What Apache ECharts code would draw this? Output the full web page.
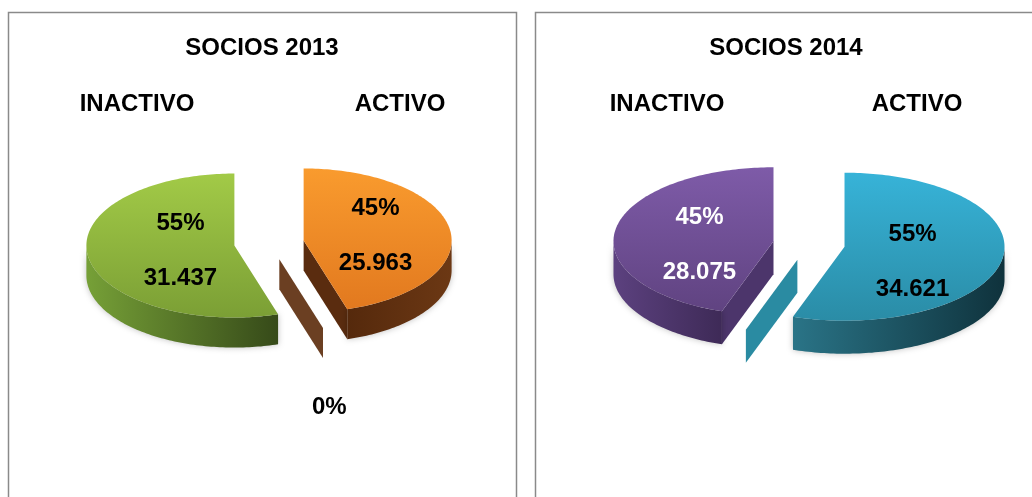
<!DOCTYPE html>
<html>
<head>
<meta charset="utf-8">
<script src="https://cdn.jsdelivr.net/npm/echarts@6/dist/echarts.min.js"></script>
<style>
  html, body { margin: 0; padding: 0; background: #fff; }
  #chart { width: 1032px; height: 497px; }
</style>
</head>
<body>
<div id="chart"></div>
<script>
// datos de socios por año (orden de las porciones, sentido horario desde arriba)
var categorias = ['ACTIVO', 'OTRO', 'INACTIVO'];
var socios2013 = [25963, 0, 31437];
var socios2014 = [34621, 0, 28075];
var titulos = ['SOCIOS 2013', 'SOCIOS 2014'];

var FONT = '"Liberation Sans", Arial, sans-serif';

// colores de cada porcion: cara superior, lateral, corte
var estilos2013 = [
    {top: ['#f99b2e', '#e2791f'], side: ['#55290c', '#6c3814'], wall: '#5a2c0f', label: '#000'},
    {top: ['#8a5530', '#6b3f20'], side: ['#6e4424', '#5c381c'], wall: '#6b3f22', label: '#000'},
    {top: ['#a2ca47', '#7b9f35'], side: ['#76a037', '#364a19'], wall: '#5a7a28', label: '#000'}
];
var estilos2014 = [
    {top: ['#37b3d8', '#2a8ca6'], side: ['#2a7487', '#0f323c'], wall: '#1f6678', label: '#000'},
    {top: ['#2c93ab', '#23778c'], side: ['#2b8aa1', '#1f6b7e'], wall: '#2a8ba2', label: '#000'},
    {top: ['#7e5ba8', '#604381'], side: ['#5c417f', '#3e2a57'], wall: '#4c356b', label: '#fff'}
];

var layout2013 = {cx: 269, cy: 243, rx: 148, ry: 72, h: 30, explode: 35, k: 0.43, dx: 9, dy: 0, zeroLabel: [50, 148]};
var layout2014 = {cx: 809, cy: 244, rx: 160, ry: 74, h: 33, explode: 36, k: 0.45, dx: -3, dy: 9, zeroLabel: null};

function miles(v) {
    return String(v).replace(/\B(?=(\d{3})+(?!\d))/g, '.');
}

function grad(c, horizontal) {
    return {
        type: 'linear', x: 0, y: 0, x2: horizontal ? 1 : 0, y2: horizontal ? 0 : 1,
        colorStops: [{offset: 0, color: c[0]}, {offset: 1, color: c[1]}]
    };
}

// tarta 3D con serie custom
function pie3d(values, L, st) {
    var total = values.reduce(function (a, b) { return a + b; }, 0);
    var starts = [];
    var acc = 0;
    values.forEach(function (v) { starts.push(acc / total * Math.PI * 2); acc += v; });

    return {
        type: 'custom',
        coordinateSystem: 'none',
        silent: true,
        animation: false,
        data: values.map(function (v) { return [v]; }),
        renderItem: function (params, api) {
            var i = params.dataIndex;
            var v = api.value(0);
            var a0 = starts[i];
            var a1 = a0 + v / total * Math.PI * 2;
            var am = (a0 + a1) / 2;
            var ox = L.cx + L.explode * Math.sin(am);
            var oy = L.cy - L.explode * L.ry / L.rx * Math.cos(am);
            var s = st[i];
            var base = Math.round((1 - Math.cos(am)) * 10) * 10;

            function pt(a, d) {
                return [ox + L.rx * Math.sin(a), oy - L.ry * Math.cos(a) + (d || 0)];
            }
            function arc(from, to, d) {
                var n = Math.max(2, Math.ceil((to - from) / 0.02));
                var pts = [];
                for (var k = 0; k <= n; k++) pts.push(pt(from + (to - from) * k / n, d));
                return pts;
            }
            function wall(a) {
                return {
                    type: 'polygon', z2: base,
                    shape: {points: [[ox, oy], pt(a), pt(a, L.h), [ox, oy + L.h]]},
                    style: {fill: s.wall}
                };
            }

            var children = [];
            if (Math.sin(a0) < -1e-6) children.push(wall(a0));
            if (Math.sin(a1) > 1e-6) children.push(wall(a1));

            var sa = Math.max(a0, Math.PI / 2), ea = Math.min(a1, Math.PI * 1.5);
            if (ea > sa + 1e-6) {
                var topArc = arc(sa, ea, 0);
                var botArc = arc(sa, ea, L.h).reverse();
                children.push({
                    type: 'polygon', z2: base + 1,
                    shape: {points: topArc.concat(botArc)},
                    style: {fill: grad(s.side, true), shadowBlur: 6, shadowColor: 'rgba(0,0,0,0.25)'}
                });
            }
            if (a1 > a0 + 1e-6) {
                children.push({
                    type: 'polygon', z2: base + 2,
                    shape: {points: [[ox, oy]].concat(arc(a0, a1, 0))},
                    style: {fill: grad(s.top, false)}
                });
            }

            var pct = Math.round(v / total * 100) + '%';
            if (v > 0) {
                var lx = ox + L.k * L.rx * Math.sin(am) + L.dx;
                var ly = oy - L.k * L.ry * Math.cos(am) + L.dy;
                children.push({
                    type: 'text', z2: base + 3,
                    style: {text: pct, x: lx, y: ly - 27, align: 'center', verticalAlign: 'middle',
                        fill: s.label, font: 'bold 24px ' + FONT}
                });
                children.push({
                    type: 'text', z2: base + 3,
                    style: {text: miles(v), x: lx, y: ly + 28, align: 'center', verticalAlign: 'middle',
                        fill: s.label, font: 'bold 24px ' + FONT}
                });
            } else if (L.zeroLabel) {
                children.push({
                    type: 'text', z2: base + 3,
                    style: {text: pct, x: ox + L.zeroLabel[0], y: oy + L.zeroLabel[1], align: 'center',
                        verticalAlign: 'middle', fill: '#000', font: 'bold 24px ' + FONT}
                });
            }
            return {type: 'group', children: children};
        }
    };
}

function texto(t, x, y) {
    return {
        type: 'text', x: x, y: y,
        style: {text: t, align: 'center', verticalAlign: 'middle', fill: '#000', font: 'bold 24px ' + FONT}
    };
}

var chart = echarts.init(document.getElementById('chart'));
var option = {
    backgroundColor: '#fff',
    graphic: [
        {type: 'rect', shape: {x: 8.5, y: 12.5, width: 508, height: 500}, style: {fill: 'none', stroke: '#8a8a8a', lineWidth: 1.5}},
        {type: 'rect', shape: {x: 535.5, y: 12.5, width: 520, height: 500}, style: {fill: 'none', stroke: '#8a8a8a', lineWidth: 1.5}},
        texto(titulos[0], 262, 48),
        texto(titulos[1], 786, 48),
        texto(categorias[2], 137, 104),
        texto(categorias[0], 400, 104),
        texto(categorias[2], 667, 104),
        texto(categorias[0], 917, 104)
    ],
    series: [
        pie3d(socios2013, layout2013, estilos2013),
        pie3d(socios2014, layout2014, estilos2014)
    ]
};
chart.setOption(option);
</script>
</body>
</html>
